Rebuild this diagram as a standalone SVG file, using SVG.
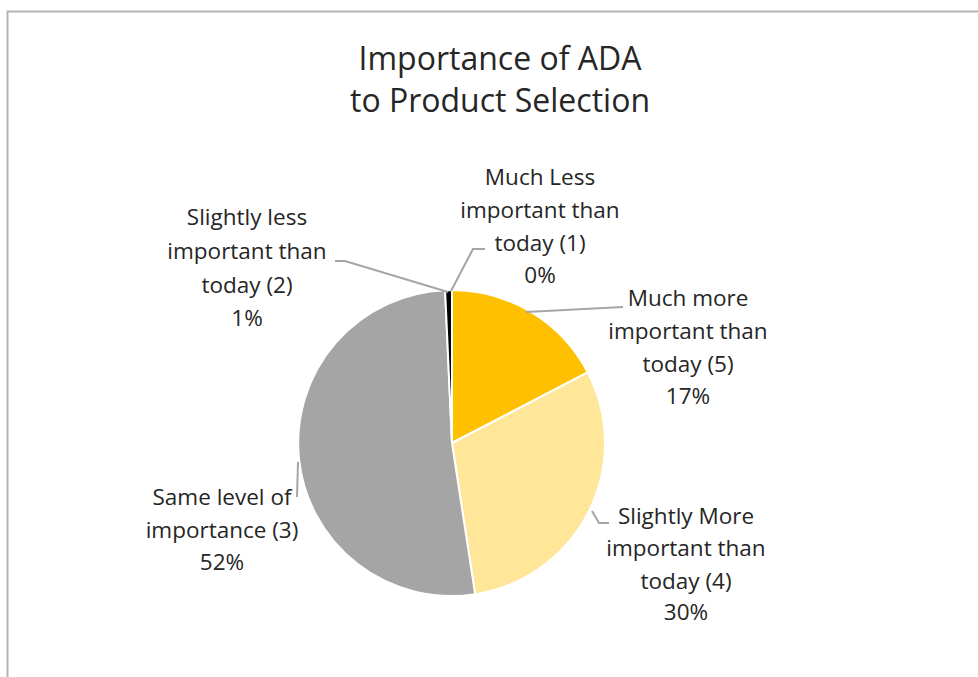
<svg xmlns="http://www.w3.org/2000/svg" width="978" height="677" viewBox="0 0 978 677">
<style>
.t{font-family:"Open Sans","Liberation Sans",sans-serif;fill:#262626;text-anchor:middle}
.title{font-size:32px}
.lbl{font-size:22.5px}
.lead{fill:none;stroke:#A6A6A6;stroke-width:2}
.sl{stroke:#fff;stroke-width:2;stroke-linejoin:round}
</style>
<rect width="978" height="677" fill="#fff"/>
<path d="M7.5,677 V11.5 H978" fill="none" stroke="#B4B4B4" stroke-width="2"/>
<g id="title">
<text class="t title" x="500" y="70">Importance of ADA</text>
<text class="t title" x="500" y="112">to Product Selection</text>
</g>
<g id="slice-much-more">
<path class="sl" fill="#FFC000" d="M452,443 L452,290 A153,153 0 0 1 587.7,372.4 Z"/>
</g>
<g id="slice-slightly-more">
<path class="sl" fill="#FFE699" d="M452,443 L587.7,372.4 A153,153 0 0 1 475.1,594.2 Z"/>
</g>
<g id="slice-same">
<path class="sl" fill="#A5A5A5" d="M452,443 L475.1,594.2 A153,153 0 1 1 445.1,290.2 Z"/>
</g>
<g id="slice-slightly-less">
<path class="sl" fill="#000" d="M452,443 L445.1,290.2 A153,153 0 0 1 452,290 Z"/>
</g>
<g id="connectors">
<polyline class="lead" points="335,261 345,261 448,292"/>
<polyline class="lead" points="451,291 473,249 485,249"/>
<polyline class="lead" points="526,312 623,307"/>
<polyline class="lead" points="592,511 599,523 609,523"/>
<polyline class="lead" points="298,462 297,497"/>
</g>
<g id="label-much-less">
<text class="t lbl" x="540" y="185">Much Less</text>
<text class="t lbl" x="540" y="218">important than</text>
<text class="t lbl" x="540" y="251">today (1)</text>
<text class="t lbl" x="540" y="283">0%</text>
</g>
<g id="label-slightly-less">
<text class="t lbl" x="247" y="225">Slightly less</text>
<text class="t lbl" x="247" y="259">important than</text>
<text class="t lbl" x="247" y="293">today (2)</text>
<text class="t lbl" x="247" y="326">1%</text>
</g>
<g id="label-much-more">
<text class="t lbl" x="688" y="306">Much more</text>
<text class="t lbl" x="688" y="339">important than</text>
<text class="t lbl" x="688" y="372">today (5)</text>
<text class="t lbl" x="688" y="404">17%</text>
</g>
<g id="label-slightly-more">
<text class="t lbl" x="686" y="524">Slightly More</text>
<text class="t lbl" x="686" y="556">important than</text>
<text class="t lbl" x="686" y="589">today (4)</text>
<text class="t lbl" x="686" y="620">30%</text>
</g>
<g id="label-same">
<text class="t lbl" x="222" y="505">Same level of</text>
<text class="t lbl" x="222" y="538">importance (3)</text>
<text class="t lbl" x="222" y="570">52%</text>
</g>
</svg>
